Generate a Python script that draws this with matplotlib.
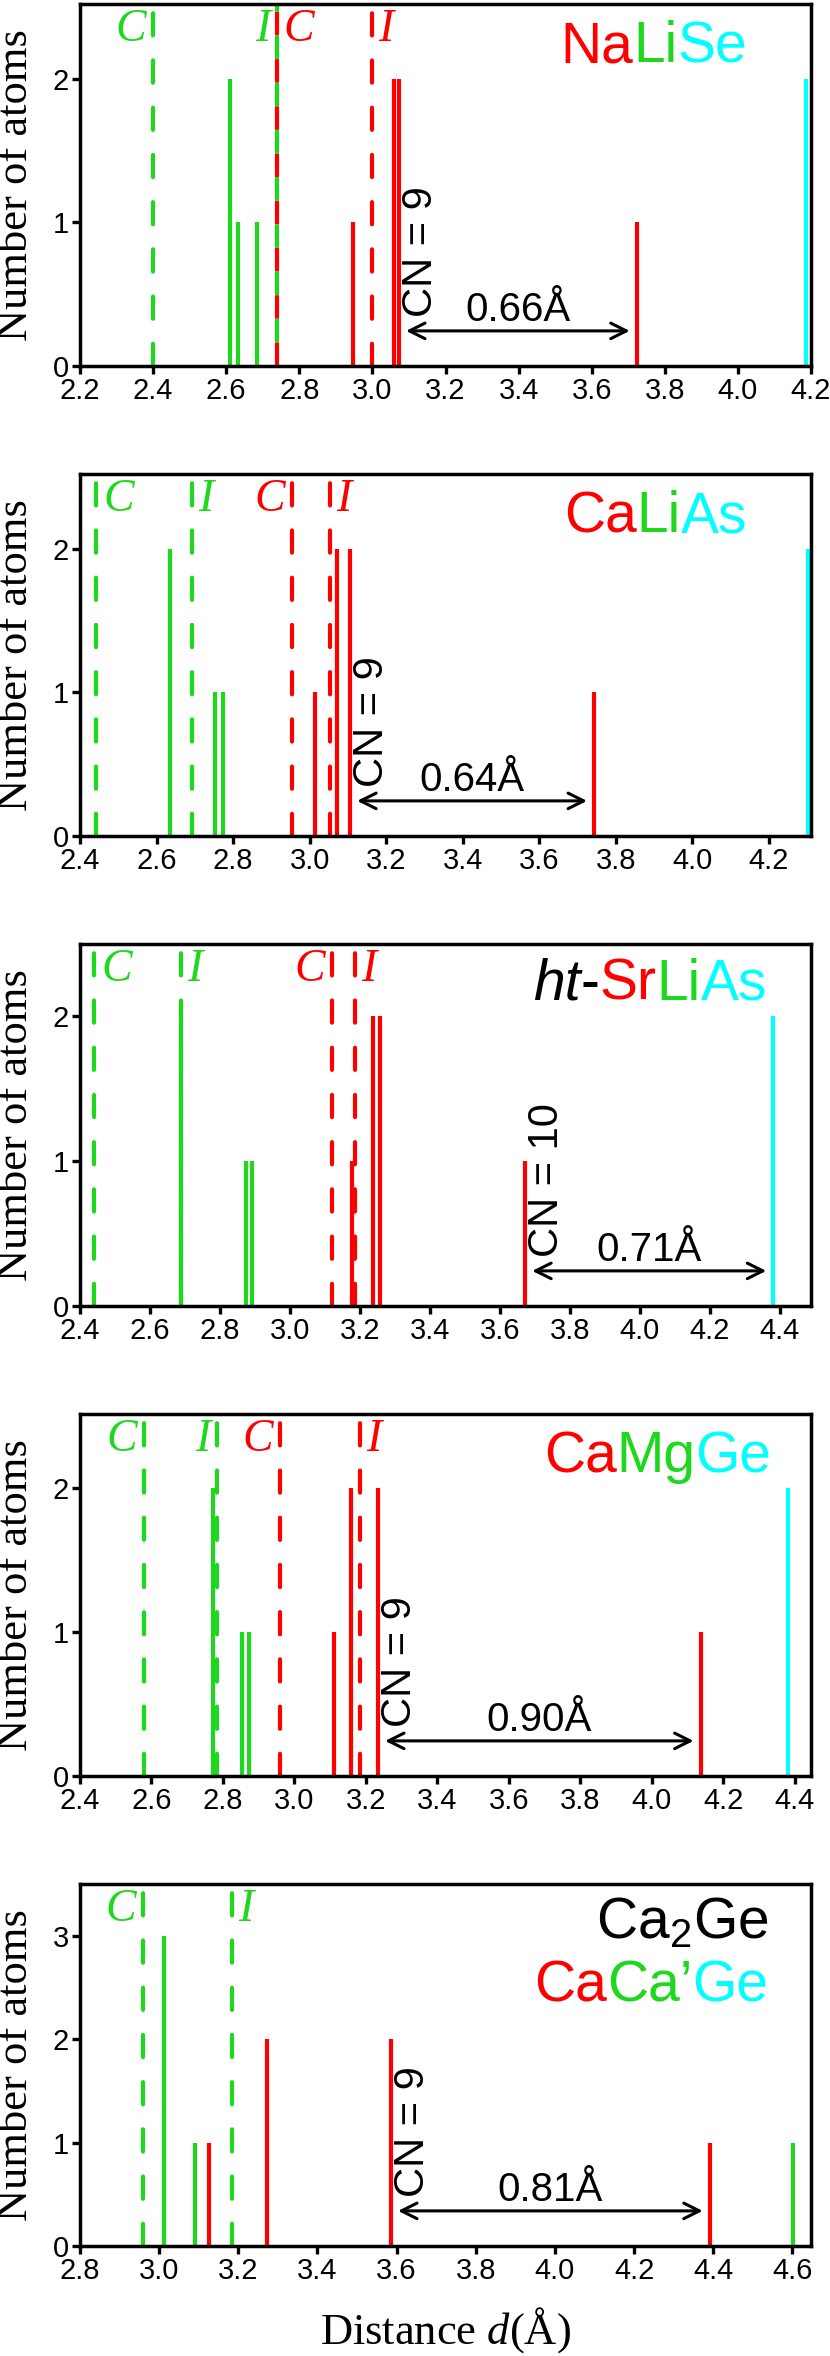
import numpy as np
import matplotlib
matplotlib.use("Agg")
import matplotlib.pyplot as plt
from matplotlib.offsetbox import TextArea, HPacker, AnnotationBbox

plt.rcParams["font.family"] = ["Liberation Sans", "DejaVu Sans"]
plt.rcParams["mathtext.fontset"] = "custom"
plt.rcParams["mathtext.it"] = "Liberation Serif:italic"
plt.rcParams["mathtext.rm"] = "Liberation Serif"
plt.rcParams["mathtext.default"] = "regular"
plt.rcParams["lines.scale_dashes"] = False

RED = "#ff0000"
GREEN = "#1ed81e"
CYAN = "#00ffff"
SERIF = ["Liberation Serif", "DejaVu Serif"]

# axis ranges of the five panels
x_min = [2.2, 2.4, 2.4, 2.4, 2.8]
x_max = [4.2, 4.31, 4.49, 4.445, 4.647]
tick_max = [4.2, 4.2, 4.4, 4.4, 4.6]
y_top = [2.52, 2.52, 2.5, 2.51, 3.5]
y_ticks = [[0, 1, 2], [0, 1, 2], [0, 1, 2], [0, 1, 2], [0, 1, 2, 3]]

# reference distances (dashed): C = covalent, I = ionic
green_C = [2.40, 2.443, 2.441, 2.578, 2.959]
green_I = [2.738, 2.692, 2.689, 2.782, 3.184]
red_C = [2.738, 2.953, 3.12, 2.96, None]
red_I = [3.00, 3.052, 3.185, 3.183, None]

# neighbour distances and counts
green_d = [[2.61, 2.633, 2.683], [2.634, 2.754, 2.773], [2.689, 2.874, 2.892],
           [2.772, 2.853, 2.874], [3.012, 3.091, 4.602]]
green_n = [[2, 1, 1], [2, 1, 1], [2, 1, 1], [2, 1, 1], [3, 1, 1]]
red_d = [[2.946, 3.058, 3.073, 3.723], [3.014, 3.071, 3.106, 3.743],
         [3.178, 3.239, 3.257, 3.673], [3.111, 3.157, 3.234, 4.136],
         [3.127, 3.272, 3.586, 4.391]]
red_n = [[1, 2, 2, 1], [1, 2, 2, 1], [1, 2, 2, 1], [1, 2, 2, 1], [1, 2, 2, 1]]
cyan_d = [[4.185], [4.302], [4.382], [4.381], []]
cyan_n = [[2], [2], [2], [2], []]

# coordination gap
gap_lo = [3.073, 3.106, 3.673, 3.234, 3.586]
gap_hi = [3.723, 3.743, 4.382, 4.136, 4.391]
gap_text = ["0.66Å", "0.64Å", "0.71Å", "0.90Å", "0.81Å"]
cn_text = ["CN = 9", "CN = 9", "CN = 10", "CN = 9", "CN = 9"]

# compound names, coloured piece by piece
formulas = [
    [[("Na", RED, "normal"), ("Li", GREEN, "normal"), ("Se", CYAN, "normal")]],
    [[("Ca", RED, "normal"), ("Li", GREEN, "normal"), ("As", CYAN, "normal")]],
    [[("ht", "black", "italic"), ("-", "black", "normal"), ("Sr", RED, "normal"),
      ("Li", GREEN, "normal"), ("As", CYAN, "normal")]],
    [[("Ca", RED, "normal"), ("Mg", GREEN, "normal"), ("Ge", CYAN, "normal")]],
    [[("Ca$_2$Ge", "black", "normal")],
     [("Ca", RED, "normal"), ("Ca’", GREEN, "normal"), ("Ge", CYAN, "normal")]],
]
# where the names sit (axes fraction)
formula_x = [0.913, 0.913, 0.94, 0.946, 0.942]
formula_y = [[0.88], [0.88], [0.887], [0.88], [0.891, 0.718]]

# which side of the dashed line its letter sits on
side_gC = [-1, 1, 1, -1, -1]
side_gI = [-1, 1, 1, -1, 1]
side_rC = [1, -1, -1, -1, 1]
side_rI = [1, 1, 1, 1, 1]

W, H = 830, 2356
fig = plt.figure(figsize=(W / 100, H / 100), dpi=100)


def dashed(ax, x, color, offset=None):
    if offset is None:
        ax.axvline(x, color=color, lw=3, linestyle=(0, (16, 18)),
                   dash_capstyle="round", zorder=2)
    else:
        ax.axvline(x, color=color, lw=3, linestyle=(offset, (17, 17)),
                   dash_capstyle="butt", zorder=2)


def letter(ax, x, text, color, side):
    shift = 16 if text == "C" else 10
    ax.annotate(text, xy=(x, 0.93), xycoords=("data", "axes fraction"),
                xytext=(side * shift, 0), textcoords="offset points",
                ha="center", va="center", fontsize=33, color=color,
                family=SERIF, style="italic", zorder=5)


for i in range(5):
    top = 4 + 470 * i
    bot = 366 + 470 * i
    ax = fig.add_axes([80 / W, 1 - bot / H, 731 / W, (bot - top) / H])
    ax.set_xlim(x_min[i], x_max[i])
    ax.set_ylim(0, y_top[i])
    ax.set_xticks(np.round(np.arange(x_min[i], tick_max[i] + 1e-6, 0.2), 1))
    ax.xaxis.set_major_formatter(matplotlib.ticker.FormatStrFormatter("%.1f"))
    ax.set_yticks(y_ticks[i])
    ax.tick_params(direction="out", length=6, width=2.4, labelsize=21, pad=2)
    for s in ax.spines.values():
        s.set_linewidth(2.5)
        s.set_zorder(10)

    # dashed reference lines
    dashed(ax, green_C[i], GREEN)
    letter(ax, green_C[i], "C", GREEN, side_gC[i])
    if red_C[i] is not None and abs(red_C[i] - green_I[i]) < 1e-3:
        dashed(ax, green_I[i], RED, offset=0)
        dashed(ax, green_I[i], GREEN, offset=17)
    else:
        dashed(ax, green_I[i], GREEN)
        if red_C[i] is not None:
            dashed(ax, red_C[i], RED)
    letter(ax, green_I[i], "I", GREEN, side_gI[i])
    if red_C[i] is not None:
        letter(ax, red_C[i], "C", RED, side_rC[i])
        dashed(ax, red_I[i], RED)
        letter(ax, red_I[i], "I", RED, side_rI[i])

    # neighbour sticks
    ax.vlines(green_d[i], 0, green_n[i], color=GREEN, lw=3, zorder=3)
    ax.vlines(red_d[i], 0, red_n[i], color=RED, lw=3, zorder=3)
    if cyan_d[i]:
        ax.vlines(cyan_d[i], 0, cyan_n[i], color=CYAN, lw=3, zorder=3)

    # gap arrow and labels
    ax.annotate("", xy=(gap_hi[i], 0.097), xytext=(gap_lo[i], 0.097),
                xycoords=("data", "axes fraction"),
                arrowprops=dict(arrowstyle="<->", lw=2.2, mutation_scale=28,
                                shrinkA=5, shrinkB=5, color="black"))
    ax.text((gap_lo[i] + gap_hi[i]) / 2, 0.125, gap_text[i],
            transform=ax.get_xaxis_transform(), ha="center", va="baseline",
            fontsize=29)
    ax.annotate(cn_text[i], xy=(gap_lo[i], 0.135), xycoords=("data", "axes fraction"),
                xytext=(16, 0), textcoords="offset points", rotation=90,
                ha="center", va="bottom", fontsize=30)

    # compound name
    for parts, fy in zip(formulas[i], formula_y[i]):
        boxes = [TextArea(t, textprops=dict(color=c, style=st, fontsize=41))
                 for t, c, st in parts]
        pack = HPacker(children=boxes, align="baseline", pad=0, sep=0)
        ab = AnnotationBbox(pack, (formula_x[i], fy), xycoords="axes fraction",
                            box_alignment=(1, 0.5), frameon=False)
        ax.add_artist(ab)

    ax.set_ylabel("Number of atoms", family=SERIF, fontsize=32)
    ax.yaxis.set_label_coords(-0.06, 0.5)
    if i == 4:
        ax.set_xlabel(r"Distance $\mathit{d}$(Å)", family=SERIF, fontsize=32,
                      labelpad=14)

fig.savefig("out.png", dpi=100)
